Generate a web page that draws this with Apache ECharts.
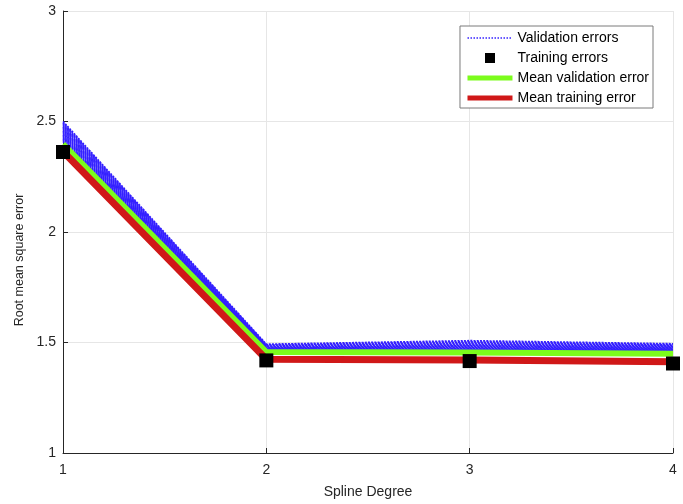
<!DOCTYPE html>
<html>
<head>
<meta charset="utf-8">
<script src="https://cdn.jsdelivr.net/npm/echarts@6/dist/echarts.min.js"></script>
<style>
  html, body { margin: 0; padding: 0; background: #fff; }
  #chart { width: 683px; height: 504px; }
</style>
</head>
<body>
<div id="chart"></div>
<script>
// Spline degree on the x axis
const degrees = [1, 2, 3, 4];

// Cross-validation folds: RMSE per spline degree
const validationRuns = [
  [2.500, 1.492, 1.508, 1.494],
  [2.494, 1.489, 1.503, 1.491],
  [2.488, 1.486, 1.499, 1.488],
  [2.482, 1.483, 1.495, 1.485],
  [2.476, 1.480, 1.491, 1.483],
  [2.470, 1.477, 1.488, 1.480],
  [2.464, 1.475, 1.485, 1.477],
  [2.458, 1.473, 1.482, 1.475],
  [2.452, 1.471, 1.479, 1.472],
  [2.446, 1.469, 1.476, 1.470],
  [2.440, 1.467, 1.473, 1.468],
  [2.434, 1.465, 1.471, 1.466],
  [2.428, 1.463, 1.468, 1.464],
  [2.422, 1.462, 1.466, 1.462],
  [2.416, 1.461, 1.464, 1.460],
  [2.410, 1.460, 1.462, 1.458]
];

// Training RMSE per degree
const trainingErrors = [2.362, 1.419, 1.416, 1.405];

// Means across folds
const meanValidation = [2.398, 1.457, 1.455, 1.449];
const meanTraining = [2.364, 1.424, 1.421, 1.413];

const yTicks = { min: 1, max: 3, step: 0.5 };

const FONT = 'Liberation Sans, Arial, Helvetica, sans-serif';
const TXT = '#262626';
const BLUE = '#3420ff';
const GREEN = '#7cfc1c';
const RED = '#d01818';

const series = [];
validationRuns.forEach(run => {
  series.push({
    name: 'Validation errors',
    type: 'line',
    data: degrees.map((d, i) => [d, run[i]]),
    symbol: 'none',
    z: 2,
    lineStyle: { color: BLUE, width: 1.8, type: [2, 1.2] },
    itemStyle: { color: BLUE }
  });
});
series.push({
  name: 'Mean validation error',
  type: 'line',
  data: degrees.map((d, i) => [d, meanValidation[i]]),
  symbol: 'none',
  z: 3,
  lineStyle: { color: GREEN, width: 6 },
  itemStyle: { color: GREEN }
});
series.push({
  name: 'Mean training error',
  type: 'line',
  data: degrees.map((d, i) => [d, meanTraining[i]]),
  symbol: 'none',
  z: 4,
  lineStyle: { color: RED, width: 7 },
  itemStyle: { color: RED }
});
series.push({
  name: 'Training errors',
  type: 'scatter',
  data: degrees.map((d, i) => [d, trainingErrors[i]]),
  symbol: 'rect',
  symbolSize: 14,
  z: 5,
  itemStyle: { color: '#000', opacity: 1 }
});

const hideSymbol = { opacity: 0 };

const chart = echarts.init(document.getElementById('chart'), null, { renderer: 'canvas' });
chart.setOption({
  animation: false,
  backgroundColor: '#fff',
  grid: { left: 63, right: 10, top: 11, bottom: 49, containLabel: false },
  legend: {
    orient: 'vertical',
    right: 30,
    top: 26,
    padding: [5, 4, 3, 5],
    itemWidth: 45,
    itemHeight: 10,
    itemGap: 6,
    align: 'left',
    backgroundColor: '#fff',
    borderColor: '#7a7a7a',
    borderWidth: 1,
    borderRadius: 0,
    textStyle: { fontFamily: FONT, fontSize: 14, color: '#000' },
    data: [
      { name: 'Validation errors', itemStyle: hideSymbol, lineStyle: { width: 1.5, type: [1.5, 1.5] } },
      { name: 'Training errors', icon: 'path://M0,0h1v1h-1z' },
      { name: 'Mean validation error', itemStyle: hideSymbol, lineStyle: { width: 5 } },
      { name: 'Mean training error', itemStyle: hideSymbol, lineStyle: { width: 5 } }
    ]
  },
  xAxis: {
    type: 'value',
    min: 1, max: 4, interval: 1,
    name: 'Spline Degree',
    nameLocation: 'middle',
    nameGap: 32,
    nameTextStyle: { fontFamily: FONT, fontSize: 14, color: TXT },
    axisLine: { show: true, onZero: false, lineStyle: { color: '#262626', width: 1 } },
    axisTick: { show: true, inside: true, length: 5, lineStyle: { color: '#262626' } },
    axisLabel: { fontFamily: FONT, fontSize: 14, color: TXT, margin: 10 },
    splitLine: { show: true, lineStyle: { color: '#e6e6e6', width: 1 } }
  },
  yAxis: {
    type: 'value',
    min: yTicks.min, max: yTicks.max, interval: yTicks.step,
    name: 'Root mean square error',
    nameLocation: 'middle',
    nameGap: 26,
    nameTextStyle: { fontFamily: FONT, fontSize: 12.5, color: TXT, padding: [0, 56, 0, 0] },
    axisLine: { show: true, onZero: false, lineStyle: { color: '#262626', width: 1 } },
    axisTick: { show: true, inside: true, length: 5, lineStyle: { color: '#262626' } },
    axisLabel: { fontFamily: FONT, fontSize: 14, color: TXT, margin: 7 },
    splitLine: { show: true, lineStyle: { color: '#e6e6e6', width: 1 } }
  },
  series: series
});
</script>
</body>
</html>
